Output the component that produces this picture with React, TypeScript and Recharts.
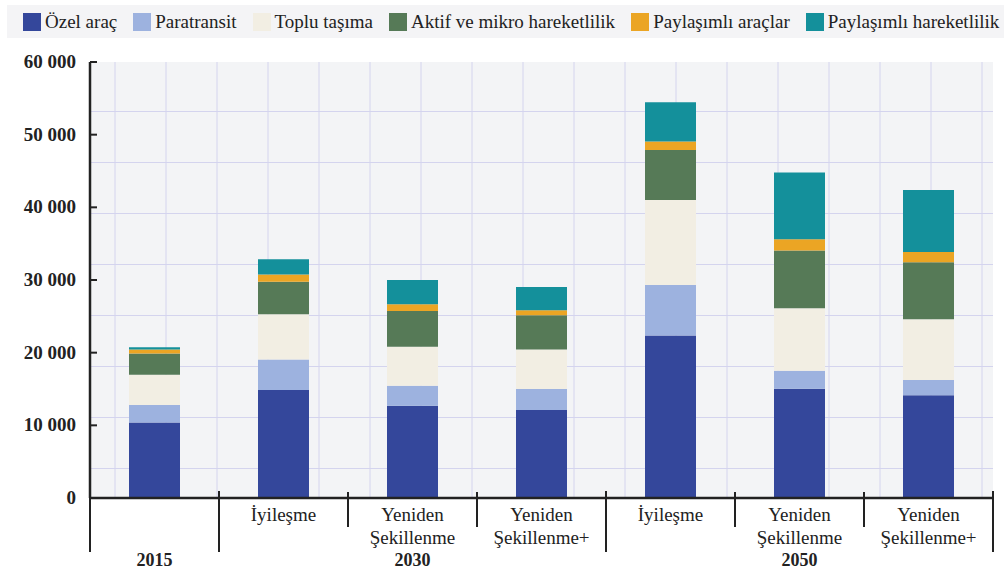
import React from "react";
import { BarChart, Bar, XAxis, YAxis, CartesianGrid } from "recharts";

// scenario + year per bar
const scenarios = [
  "",
  "İyileşme",
  "Yeniden Şekillenme",
  "Yeniden Şekillenme+",
  "İyileşme",
  "Yeniden Şekillenme",
  "Yeniden Şekillenme+",
];
const years = ["2015", "2030", "2030", "2030", "2050", "2050", "2050"];

const ozelArac = [10400, 14850, 12700, 12100, 22350, 15050, 14150];
const paratransit = [2400, 4200, 2750, 2900, 6950, 2450, 2100];
const topluTasima = [4150, 6250, 5350, 5450, 11700, 8600, 8350];
const aktifMikro = [2950, 4450, 4950, 4700, 6900, 7950, 7850];
const paylasimliArac = [550, 1000, 900, 700, 1150, 1550, 1400];
const paylasimliHareket = [300, 2100, 3350, 3200, 5400, 9200, 8550];

const yTicks = [0, 10000, 20000, 30000, 40000, 50000, 60000];

const series = [
  { key: "ozel", name: "Özel araç", color: "#34479b", values: ozelArac },
  { key: "para", name: "Paratransit", color: "#9db2df", values: paratransit },
  { key: "toplu", name: "Toplu taşıma", color: "#f2eee3", values: topluTasima },
  { key: "aktif", name: "Aktif ve mikro hareketlilik", color: "#567a57", values: aktifMikro },
  { key: "parac", name: "Paylaşımlı araçlar", color: "#eba524", values: paylasimliArac },
  { key: "phar", name: "Paylaşımlı hareketlilik", color: "#14909b", values: paylasimliHareket },
];

const data = scenarios.map((s, i) => {
  const row: Record<string, string | number> = { id: `${years[i]} ${s}`, scenario: s, year: years[i] };
  series.forEach((sr) => {
    row[sr.key] = sr.values[i];
  });
  return row;
});

const W = 1004;
const H = 572;
const MARGIN = { top: 62, right: 11, bottom: 0, left: 0 };
const Y_AXIS_W = 90;
const X_AXIS_H = 74;
const PLOT_W = W - MARGIN.left - MARGIN.right - Y_AXIS_W;
const HALF_BAND = PLOT_W / scenarios.length / 2;
const FONT = '"Liberation Serif", "Times New Roman", serif';
const INK = "#222";

const fmt = (v: number) => String(v).replace(/\B(?=(\d{3})+(?!\d))/g, " ");

function YTick(props: any) {
  const { x, y, payload } = props;
  return (
    <g>
      <line x1={x + 14} x2={x + 21} y1={y} y2={y} stroke={INK} strokeWidth={2} />
      <text x={x} y={y} dy={6} textAnchor="end" fontFamily={FONT} fontSize={19} fontWeight="bold" fill={INK}>
        {fmt(payload.value)}
      </text>
    </g>
  );
}

function XTick(props: any) {
  const { x, y, index } = props;
  const scen = scenarios[index];
  const year = years[index];
  const groupStart = index === 0 || years[index - 1] !== year;
  const groupIdx = years.map((yy, i) => (yy === year ? i : -1)).filter((i) => i >= 0);
  const groupMid = groupIdx[Math.floor(groupIdx.length / 2)];
  const lines = scen.startsWith("Yeniden") ? ["Yeniden", scen.replace("Yeniden ", "")] : scen ? [scen] : [];
  const left = x - HALF_BAND;
  const right = x + HALF_BAND;
  return (
    <g>
      {groupStart ? (
        <line x1={left} x2={left} y1={index === 0 ? y : y - 7} y2={y + 54} stroke={INK} strokeWidth={2} />
      ) : (
        <line x1={left} x2={left} y1={y - 6} y2={y + 29} stroke={INK} strokeWidth={2} />
      )}
      {index === scenarios.length - 1 && (
        <line x1={right} x2={right} y1={y - 7} y2={y + 54} stroke={INK} strokeWidth={2} />
      )}
      {lines.map((l, i) => (
        <text key={i} x={x} y={y + 23 + i * 23} textAnchor="middle" fontFamily={FONT} fontSize={19} fill={INK}>
          {l}
        </text>
      ))}
      {index === groupMid && (
        <text x={x} y={y + 68} textAnchor="middle" fontFamily={FONT} fontSize={18} fontWeight="bold" fill={INK}>
          {year}
        </text>
      )}
    </g>
  );
}

function Legend() {
  return (
    <div
      style={{
        position: "absolute",
        left: 7,
        top: 5,
        width: W - 7,
        height: 33,
        background: "#f4f4f6",
        display: "flex",
        alignItems: "center",
        paddingLeft: 16,
        boxSizing: "border-box",
        fontFamily: FONT,
        fontSize: 19,
        color: INK,
        whiteSpace: "nowrap",
      }}
    >
      {series.map((s) => (
        <div key={s.key} style={{ display: "flex", alignItems: "center", marginRight: 16 }}>
          <span style={{ display: "inline-block", width: 18, height: 18, background: s.color, marginRight: 4 }} />
          <span>{s.name}</span>
        </div>
      ))}
    </div>
  );
}

export default function App() {
  return (
    <div style={{ position: "absolute", left: 0, top: 0, width: W, height: H, background: "#fff" }}>
      <Legend />
      <BarChart width={W} height={H} data={data} margin={MARGIN} barSize={51}>
        <CartesianGrid
          fill="#f3f4f6"
          stroke="#d4d4ee"
          strokeWidth={1}
          verticalCoordinatesGenerator={({ offset }: any) => {
            const out: number[] = [];
            for (let v = offset.left + 25; v < offset.left + offset.width + 3; v += 51) out.push(v);
            return out;
          }}
          horizontalCoordinatesGenerator={({ offset }: any) => {
            const out: number[] = [];
            for (let v = offset.top + offset.height - 29.5; v > offset.top + 5; v -= 51) out.push(v);
            return out;
          }}
        />
        <XAxis
          dataKey="id"
          height={X_AXIS_H}
          interval={0}
          tickLine={false}
          tickSize={0}
          tickMargin={0}
          axisLine={{ stroke: INK, strokeWidth: 2.5 }}
          tick={<XTick />}
        />
        <YAxis
          width={Y_AXIS_W}
          domain={[0, 60000]}
          ticks={yTicks}
          interval={0}
          tickLine={false}
          tickSize={0}
          tickMargin={14}
          axisLine={{ stroke: INK, strokeWidth: 2.5 }}
          tick={<YTick />}
        />
        {series.map((s) => (
          <Bar key={s.key} dataKey={s.key} name={s.name} stackId="a" fill={s.color} isAnimationActive={false} />
        ))}
      </BarChart>
    </div>
  );
}
